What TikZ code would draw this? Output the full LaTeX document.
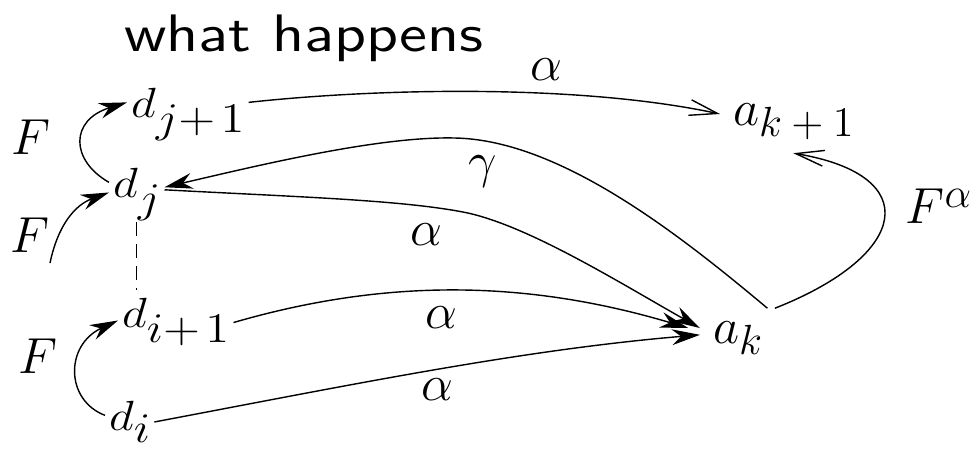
\documentclass[tikz,border=0pt]{standalone}
\usepackage{tikz}
\usetikzlibrary{arrows.meta}

\newcommand{\hstretch}[2]{\scalebox{#1}[1]{#2}}
\newcommand{\dname}[3][4.5pt]{\hstretch{1.15}{$#2$\raisebox{-#1}[0pt][0pt]{$#3$}}}
\newcommand{\aname}[2]{$#1$\raisebox{-3.4pt}{\fontsize{13}{15}\selectfont$#2$}}

\tikzset{
  dnode/.style={inner xsep=1pt, inner ysep=2pt, anchor=base west, font=\fontsize{13}{15}\selectfont},
  anode/.style={inner sep=3.5pt, anchor=base west, font=\fontsize{15}{17}\selectfont},
  flab/.style={inner sep=0pt, anchor=base west, font=\fontsize{14.5}{16}\selectfont},
  lbl/.style={inner sep=0pt, anchor=base, font=\fontsize{15.5}{18}\selectfont},
  fhead/.style={-{Stealth[length=8pt,width=4.5pt]}},
  ohead/.style={-{Straight Barb[length=8pt,width=4.5pt]}}
}

\begin{document}
\begin{tikzpicture}[x=0.01cm,y=-0.01cm]
  \useasboundingbox (0,0) rectangle (976,450);

  % --- title ---
  \node[anchor=base, font=\fontsize{15}{18}\selectfont\sffamily] (title) at (304,51) {\hstretch{1.21}{what happens}};

  % --- d side ---
  \node[dnode] (dj1) at (127,117) {\dname{d}{j{+}\mkern2mu 1}};
  \node[dnode] (dj) at (109,197) {\dname{d}{j}};
  \node[dnode] (di1) at (118,327) {\dname{d}{i{+}\mkern2mu 1}};
  \node[dnode] (di) at (105,430) {\dname[3.6pt]{d}{i}};

  % --- a side ---
  \node[anode] (ak1) at (720,125) {\aname{a}{k+1}};
  \node[anode] (ak) at (700,343) {\aname{a}{k}};

  % --- labels ---
  \node[flab] (fj1) at (11,154) {$F$};
  \node[flab] (fj) at (10,252) {$F$};
  \node[flab] (fi1) at (18,373) {$F$};
  \node[flab] (fa) at (905,223) {$F$\raisebox{4.5pt}{\fontsize{13}{14}\selectfont$\alpha$}};
  \node[lbl] (atop) at (546,80) {$\alpha$};
  \node[lbl] (gam) at (483,177) {$\gamma$};
  \node[lbl] (amid) at (426,245) {$\alpha$};
  \node[lbl] (ai1) at (441,328) {$\alpha$};
  \node[lbl] (ai) at (437,400) {$\alpha$};

  % --- maps to the a side ---
  \draw[ohead] (dj1.east) .. controls (380,88) and (580,84) .. (ak1.174);
  \draw[fhead] (ak.45) .. controls (680,235) and (560,140) .. (455,138)
    .. controls (380,136) and (260,165) .. (dj.-10);
  \draw[fhead] (dj.-15) .. controls (300,197) and (400,200) .. (463,212)
    .. controls (526,224) and (620,283) .. (ak.165);
  \draw[fhead, shorten >=3.5pt] (di1.-10) .. controls (380,280) and (520,278) .. (ak.170);
  \draw[fhead] (di.-15) .. controls (350,385) and (520,350) .. (ak.175);
  \draw[ohead] (ak.north east) .. controls (910,255) and (925,175) .. (ak1.south);

  % --- F steps ---
  \draw[fhead] (dj.west) .. controls (70,160) and (70,120) .. (dj1.west);
  \coordinate (fjs) at (50,263);
  \draw[fhead] (fjs) .. controls (58,225) and (75,205) .. (dj.200);
  \draw[fhead] (di.west) .. controls (65,400) and (65,345) .. (di1.188);

  % --- dashed link ---
  \draw[dash pattern=on 4pt off 2.2pt, shorten <=5pt] (dj.south) -- (dj.south |- di1.north);
\end{tikzpicture}
\end{document}
